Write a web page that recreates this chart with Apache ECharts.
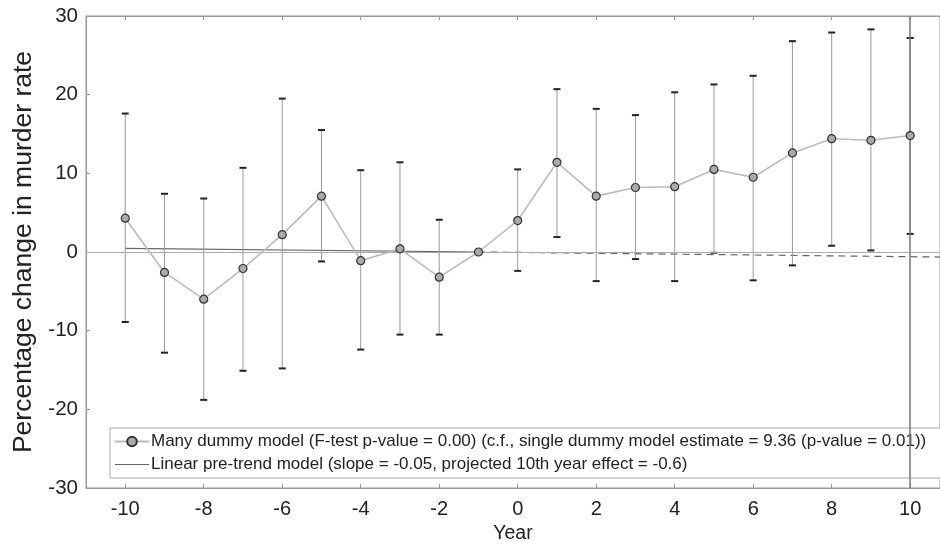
<!DOCTYPE html>
<html>
<head>
<meta charset="utf-8">
<script src="https://cdn.jsdelivr.net/npm/echarts@6/dist/echarts.min.js"></script>
<style>
html,body{margin:0;padding:0;background:#fff;}
#chart{width:940px;height:550px;}
</style>
</head>
<body>
<div id="chart"></div>
<script>
// ---- data ----
const years = [-10,-9,-8,-7,-6,-5,-4,-3,-2,-1,0,1,2,3,4,5,6,7,8,9,10];
const estimates = [4.3,-2.6,-6.0,-2.1,2.2,7.1,-1.1,0.4,-3.2,0.0,4.0,11.4,7.1,8.2,8.3,10.5,9.5,12.6,14.4,14.2,14.8];
const ciUpper = [17.6,7.4,6.8,10.7,19.5,15.5,10.4,11.4,4.1,null,10.5,20.7,18.2,17.4,20.3,21.3,22.4,26.8,27.9,28.3,27.2];
const ciLower = [-8.9,-12.8,-18.8,-15.1,-14.8,-1.2,-12.4,-10.5,-10.5,null,-2.4,1.9,-3.7,-0.9,-3.7,-0.1,-3.6,-1.7,0.8,0.2,2.3];
const trendPreYears = [-10,-1];
const trendPreValues = [0.45,0.0];
const trendPostYears = [-1,10.76];
const trendPostValues = [0.0,-0.64];
const xTickLabels = [-10,-8,-6,-4,-2,0,2,4,6,8,10];
const yTickLabels = [-30,-20,-10,0,10,20,30];

const nameMany = 'Many dummy model (F-test p-value = 0.00) (c.f., single dummy model estimate = 9.36 (p-value = 0.01))';
const nameLinear = 'Linear pre-trend model (slope = -0.05, projected 10th year effect = -0.6)';

const FONT = "'Liberation Sans', Arial, Helvetica, sans-serif";
const XMIN = -11, XMAX = 10.76;

const errData = [];
years.forEach((y, i) => {
  if (ciUpper[i] != null && ciLower[i] != null) errData.push([y, ciLower[i], ciUpper[i]]);
});

const chart = echarts.init(document.getElementById('chart'), null, {renderer: 'canvas'});

chart.setOption({
  animation: false,
  backgroundColor: '#fff',
  textStyle: {fontFamily: FONT},
  grid: {left: 86, right: 0, top: 16, bottom: 62, show: true, borderColor: '#999', borderWidth: 1, containLabel: false},
  legend: {
    orient: 'vertical',
    left: 110,
    top: 428,
    itemGap: 6,
    itemWidth: 34,
    itemHeight: 12,
    padding: [5, 40, 5, 4],
    borderColor: '#aaa',
    borderWidth: 1,
    backgroundColor: '#fff',
    textStyle: {fontFamily: FONT, fontSize: 17, color: '#222', padding: [0, 0, 0, -3]},
    data: [
      {name: nameMany},
      {name: nameLinear, icon: 'path://M0,6 L34,6 L34,7 L0,7 Z', itemStyle: {color: '#666'}}
    ]
  },
  xAxis: [{
    type: 'value',
    min: XMIN,
    max: XMAX,
    name: 'Year',
    nameLocation: 'middle',
    nameGap: 29,
    nameTextStyle: {fontFamily: FONT, fontSize: 19.5, color: '#222'},
    axisLine: {onZero: false, lineStyle: {color: '#999', width: 1}},
    axisTick: {inside: true, length: 4, lineStyle: {color: '#999'}, customValues: xTickLabels},
    axisLabel: {fontFamily: FONT, fontSize: 20, color: '#222', margin: 11, customValues: xTickLabels},
    splitLine: {show: false}
  }, {
    type: 'value',
    position: 'top',
    min: XMIN,
    max: XMAX,
    axisLine: {onZero: false, lineStyle: {color: '#999', width: 1}},
    axisTick: {inside: true, length: 4, lineStyle: {color: '#999'}, customValues: xTickLabels},
    axisLabel: {show: false},
    splitLine: {show: false}
  }],
  yAxis: {
    type: 'value',
    min: -30,
    max: 30,
    interval: 10,
    name: 'Percentage change in murder rate',
    nameLocation: 'middle',
    nameGap: 46,
    nameTextStyle: {fontFamily: FONT, fontSize: 26.5, color: '#222'},
    axisLine: {show: true, onZero: false, lineStyle: {color: '#999', width: 1}},
    axisTick: {show: true, inside: true, length: 4, lineStyle: {color: '#999'}},
    axisLabel: {fontFamily: FONT, fontSize: 20.5, color: '#222', margin: 8,
      formatter: v => (yTickLabels.indexOf(v) >= 0 ? String(v) : '')},
    splitLine: {show: false}
  },
  series: [
    {
      name: 'zero',
      type: 'line',
      data: [],
      silent: true,
      markLine: {
        silent: true,
        symbol: 'none',
        label: {show: false},
        data: [
          {yAxis: 0, lineStyle: {color: '#aaa', width: 1, type: 'solid'}},
          {xAxis: 10, lineStyle: {color: '#777', width: 1.5, type: 'solid'}}
        ]
      }
    },
    {
      name: nameLinear,
      type: 'line',
      data: trendPreYears.map((x, i) => [x, trendPreValues[i]]),
      symbol: 'none',
      lineStyle: {color: '#666', width: 1.2, type: 'solid'},
      itemStyle: {color: '#666'},
      z: 3
    },
    {
      name: nameLinear,
      type: 'line',
      data: trendPostYears.map((x, i) => [x, trendPostValues[i]]),
      symbol: 'none',
      lineStyle: {color: '#666', width: 1.2, type: [7, 5]},
      itemStyle: {color: '#666'},
      z: 3
    },
    {
      name: 'ci',
      type: 'custom',
      data: errData,
      silent: true,
      z: 4,
      renderItem: function (params, api) {
        const x = api.value(0);
        const pLo = api.coord([x, api.value(1)]);
        const pHi = api.coord([x, api.value(2)]);
        const cw = 3.5;
        return {
          type: 'group',
          children: [
            {type: 'line', shape: {x1: pLo[0], y1: pLo[1], x2: pHi[0], y2: pHi[1]}, style: {stroke: '#999', lineWidth: 1}},
            {type: 'line', shape: {x1: pHi[0] - cw, y1: pHi[1], x2: pHi[0] + cw, y2: pHi[1]}, style: {stroke: '#222', lineWidth: 2}},
            {type: 'line', shape: {x1: pLo[0] - cw, y1: pLo[1], x2: pLo[0] + cw, y2: pLo[1]}, style: {stroke: '#222', lineWidth: 2}}
          ]
        };
      }
    },
    {
      name: nameMany,
      type: 'line',
      data: years.map((x, i) => [x, estimates[i]]),
      symbol: 'circle',
      symbolSize: 8,
      showAllSymbol: true,
      lineStyle: {color: '#bbb', width: 1.6},
      itemStyle: {color: '#aaa', borderColor: '#333', borderWidth: 1.2},
      z: 5
    }
  ]
});
</script>
</body>
</html>
